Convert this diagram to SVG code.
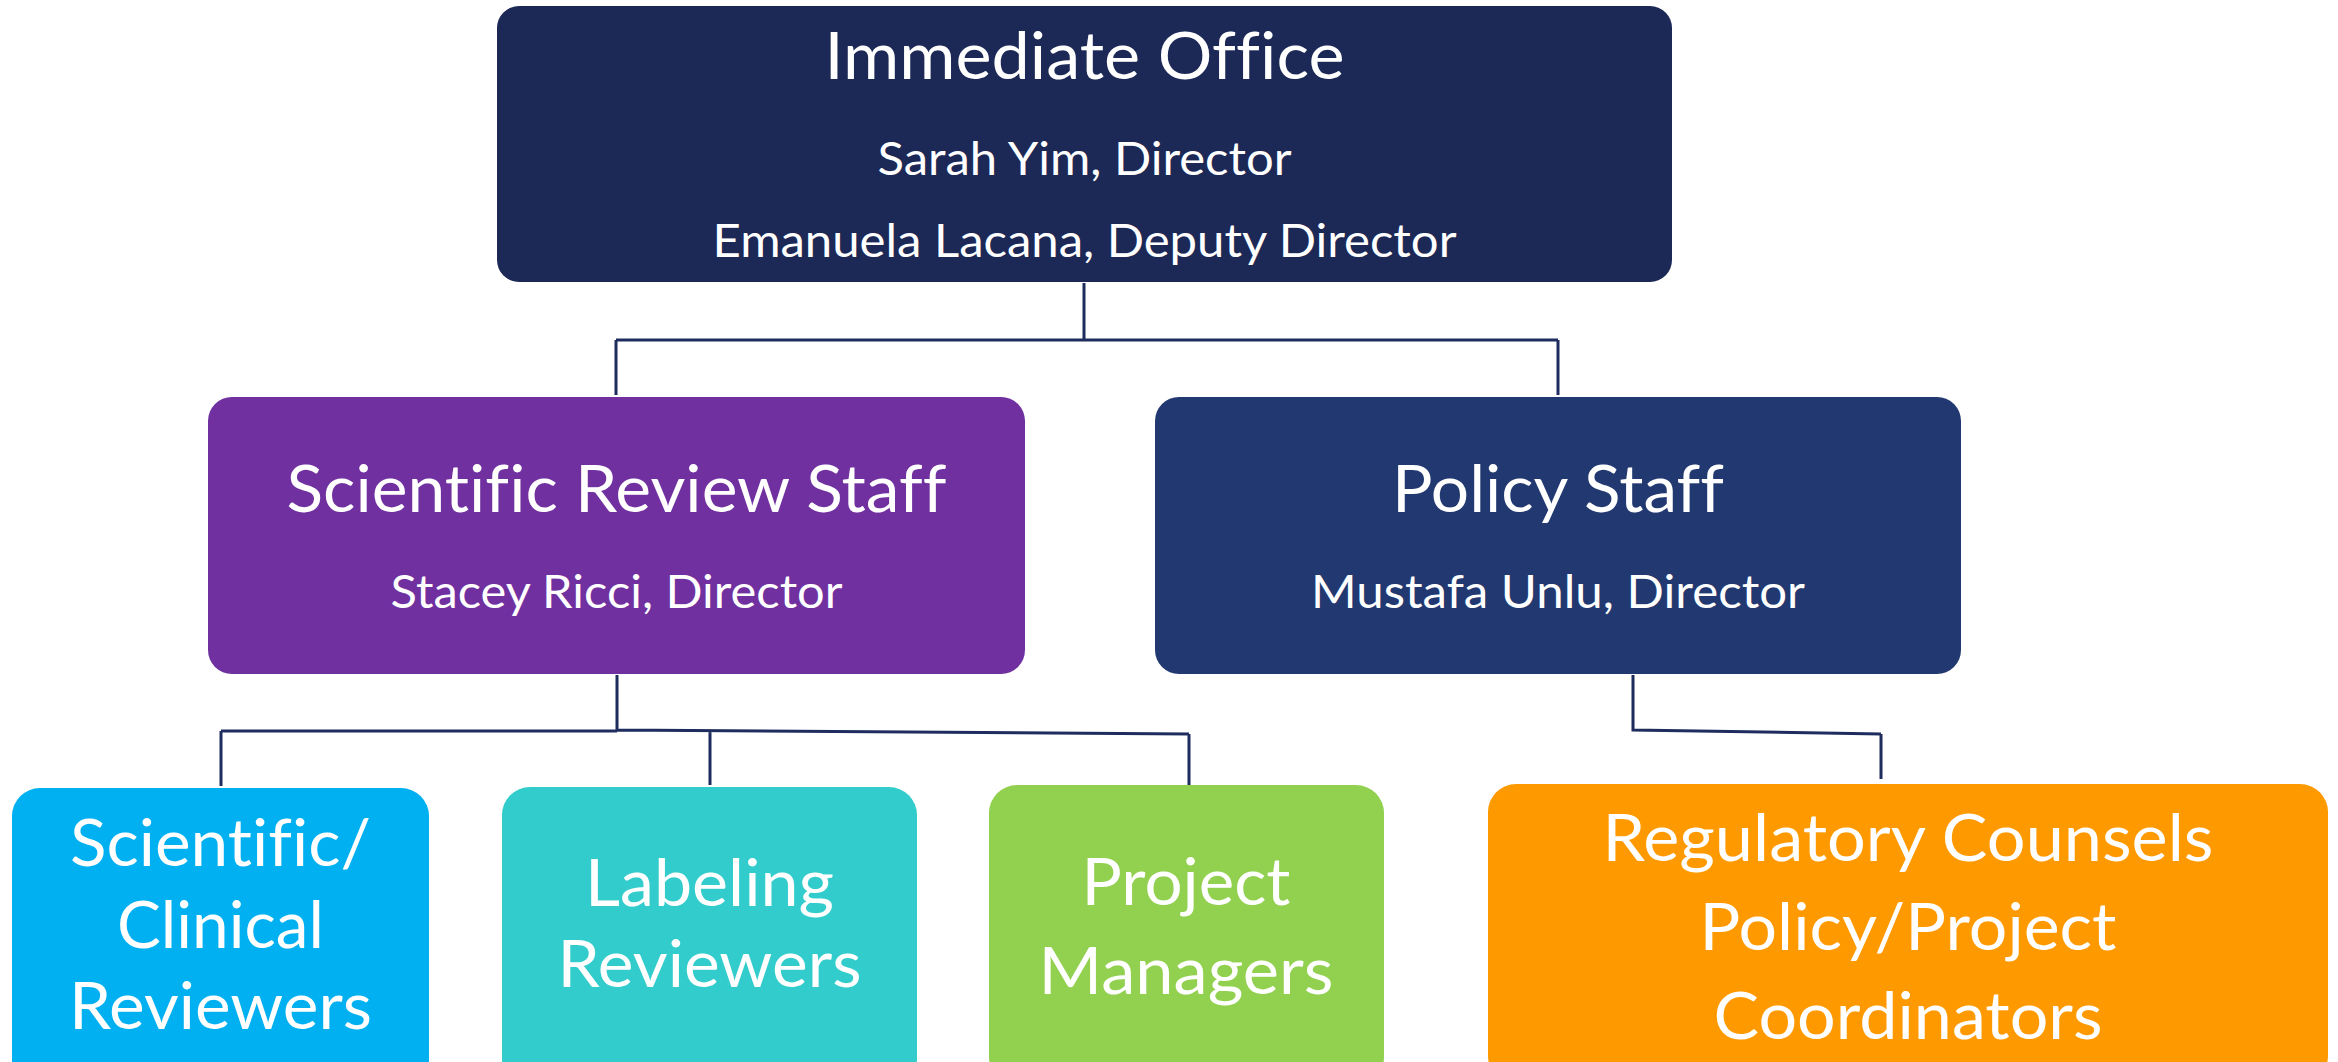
<svg xmlns="http://www.w3.org/2000/svg" width="2338" height="1062" viewBox="0 0 2338 1062">
<style>
.box{stroke:none}
.t{font-family:Lato,"Open Sans","Liberation Sans",sans-serif;fill:#FFFFFF;text-anchor:middle;font-variant-ligatures:none;font-feature-settings:"liga" 0}
.h{font-size:66px}
.s{font-size:46px}
.conn{fill:none;stroke:#1F2D5E;stroke-width:3}
</style>
<rect width="2338" height="1062" fill="#FFFFFF"/>
<g id="connectors">
<path class="conn" d="M1084 283 V340 M616 340 H1558 M616 340 V395 M1558 340 V395"/>
<path class="conn" d="M617 675 V731 M221 731 H617 M221 731 V786 M617 730 L1189 734 M710 731 V785 M1189 734 V789"/>
<path class="conn" d="M1633 675 V730 L1881 734 M1881 734 V779"/>
</g>
<g id="immediate-office">
<rect class="box" x="497" y="6" width="1175" height="276" rx="22" fill="#1C2856"/>
<text class="t h" x="1084.5" y="79" textLength="520" lengthAdjust="spacingAndGlyphs">Immediate Office</text>
<text class="t s" x="1084.5" y="175" textLength="414" lengthAdjust="spacingAndGlyphs">Sarah Yim, Director</text>
<text class="t s" x="1084.5" y="257" textLength="744" lengthAdjust="spacingAndGlyphs">Emanuela Lacana, Deputy Director</text>
</g>
<g id="scientific-review-staff">
<rect class="box" x="208" y="397" width="817" height="277" rx="24" fill="#7030A0"/>
<text class="t h" x="616.5" y="512" textLength="660" lengthAdjust="spacingAndGlyphs">Scientific Review Staff</text>
<text class="t s" x="616.5" y="608" textLength="452" lengthAdjust="spacingAndGlyphs">Stacey Ricci, Director</text>
</g>
<g id="policy-staff">
<rect class="box" x="1155" y="397" width="806" height="277" rx="24" fill="#223870"/>
<text class="t h" x="1558" y="512" textLength="332" lengthAdjust="spacingAndGlyphs">Policy Staff</text>
<text class="t s" x="1558" y="608" textLength="494" lengthAdjust="spacingAndGlyphs">Mustafa Unlu, Director</text>
</g>
<g id="scientific-clinical-reviewers">
<rect class="box" x="12" y="788" width="417" height="300" rx="28" fill="#00B0F0"/>
<text class="t h" x="220.5" y="866" textLength="301" lengthAdjust="spacingAndGlyphs">Scientific/</text>
<text class="t h" x="220.5" y="948" textLength="207" lengthAdjust="spacingAndGlyphs">Clinical</text>
<text class="t h" x="220.5" y="1029" textLength="303" lengthAdjust="spacingAndGlyphs">Reviewers</text>
</g>
<g id="labeling-reviewers">
<rect class="box" x="502" y="787" width="415" height="300" rx="28" fill="#33CCCC"/>
<text class="t h" x="709.5" y="906" textLength="249" lengthAdjust="spacingAndGlyphs">Labeling</text>
<text class="t h" x="709.5" y="987" textLength="304" lengthAdjust="spacingAndGlyphs">Reviewers</text>
</g>
<g id="project-managers">
<rect class="box" x="989" y="785" width="395" height="300" rx="28" fill="#92D050"/>
<text class="t h" x="1186" y="905" textLength="209" lengthAdjust="spacingAndGlyphs">Project</text>
<text class="t h" x="1186" y="994" textLength="295" lengthAdjust="spacingAndGlyphs">Managers</text>
</g>
<g id="regulatory-counsels">
<rect class="box" x="1488" y="784" width="840" height="300" rx="28" fill="#FF9900"/>
<text class="t h" x="1908" y="861" textLength="611" lengthAdjust="spacingAndGlyphs">Regulatory Counsels</text>
<text class="t h" x="1908" y="950" textLength="417" lengthAdjust="spacingAndGlyphs">Policy/Project</text>
<text class="t h" x="1908" y="1039" textLength="389" lengthAdjust="spacingAndGlyphs">Coordinators</text>
</g>
</svg>
